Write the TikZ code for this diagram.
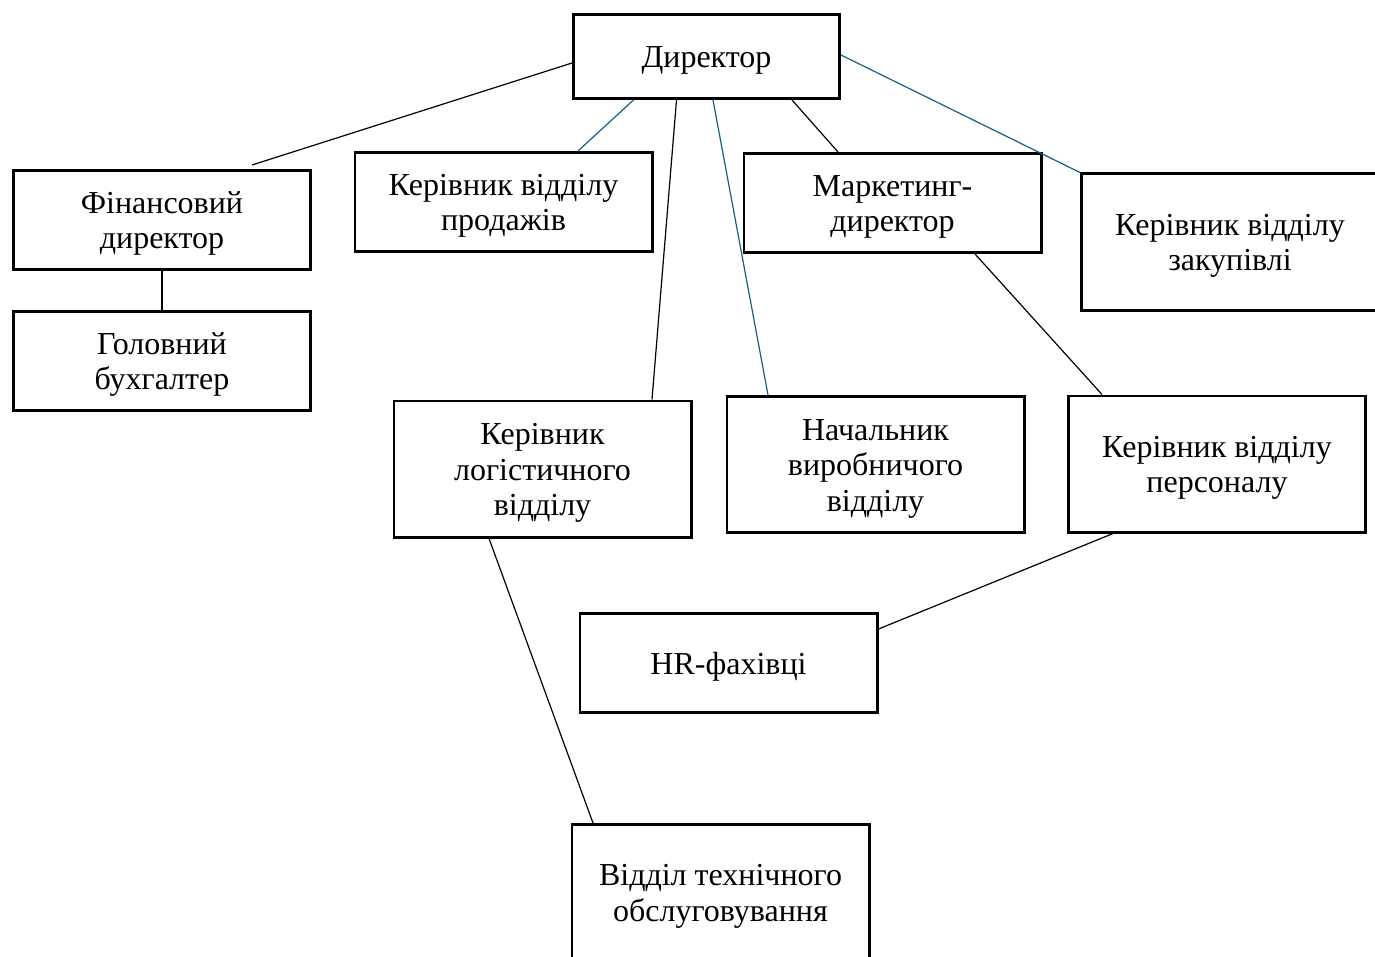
\documentclass[tikz,border=0pt]{standalone}
\usepackage{fontspec}
\setmainfont{Liberation Serif}
\usepackage{xcolor}
\usepackage{tikz}
\usetikzlibrary{positioning}
\definecolor{linkblue}{HTML}{156082}

\begin{document}
\begin{tikzpicture}[
  x=0.5pt, y=-0.5pt,
  orgbox/.style={draw, rectangle, line width=1.3pt, minimum width=148.7pt, minimum height=49.7pt, inner sep=0pt, align=center,
    font=\fontsize{16}{17.8}\selectfont, text height=14.6pt, text depth=3.5pt},
  orgtall/.style={orgbox, minimum height=68.2pt},
  tworows/.style={text height=32.4pt},
  threerows/.style={text height=50.2pt},
  link/.style={line width=0.6pt},
  bluelink/.style={link, draw=linkblue}
]
\useasboundingbox (0,0) rectangle (1375,957);

% Top level
\node[orgbox, minimum width=133.2pt, minimum height=42.2pt] (dir) at (706.5,56.5) {Директор};

% Second row
\node[orgbox, tworows] (fin) at (162,220) {Фінансовий\\директор};
\node[orgbox, tworows, below=19.5pt of fin] (buh) {Головний\\бухгалтер};
\node[orgbox, tworows] (sales) at (503.5,202) {Керівник відділу\\продажів};
\node[orgbox, tworows] (mkt) at (892.5,203) {Маркетинг-\\директор};
\node[orgtall, tworows] (purch) at (1230,242) {Керівник відділу\\закупівлі};

% Third row
\node[orgtall, threerows] (logi) at (542.5,469) {Керівник\\логістичного\\відділу};
\node[orgtall, threerows] (prod) at (875.5,464.5) {Начальник\\виробничого\\відділу};
\node[orgtall, tworows] (pers) at (1217,464) {Керівник відділу\\персоналу};

% Lower boxes
\node[orgbox] (hr) at (728.5,663) {HR-фахівці};
\node[orgtall, tworows] (tech) at (720.5,892.5) {Відділ технічного\\обслуговування};

% Lines
\draw[link] ([yshift=-3.25pt]dir.west) -- ([xshift=45pt,yshift=2pt]fin.north);
\draw[bluelink] ([xshift=-36.5pt]dir.south) -- ([xshift=37.25pt]sales.north);
\draw[link] ([xshift=-15pt]dir.south) -- ([xshift=54.75pt]logi.north);
\draw[bluelink] ([xshift=3.25pt]dir.south) -- ([xshift=-53.75pt]prod.north);
\draw[link] ([xshift=42.75pt]dir.south) -- ([xshift=-27.25pt]mkt.north);
\draw[bluelink] ([yshift=0.75pt]dir.east) -- (purch.north west);
\draw[link] ([xshift=41.25pt]mkt.south) -- ([xshift=-57.5pt]pers.north);
\draw[link] (fin.south) -- (buh.north);
\draw[link] ([xshift=-52pt]pers.south) -- ([yshift=17pt]hr.east);
\draw[link] ([xshift=-26.75pt]logi.south) -- ([xshift=-63.75pt]tech.north);

\end{tikzpicture}
\end{document}
